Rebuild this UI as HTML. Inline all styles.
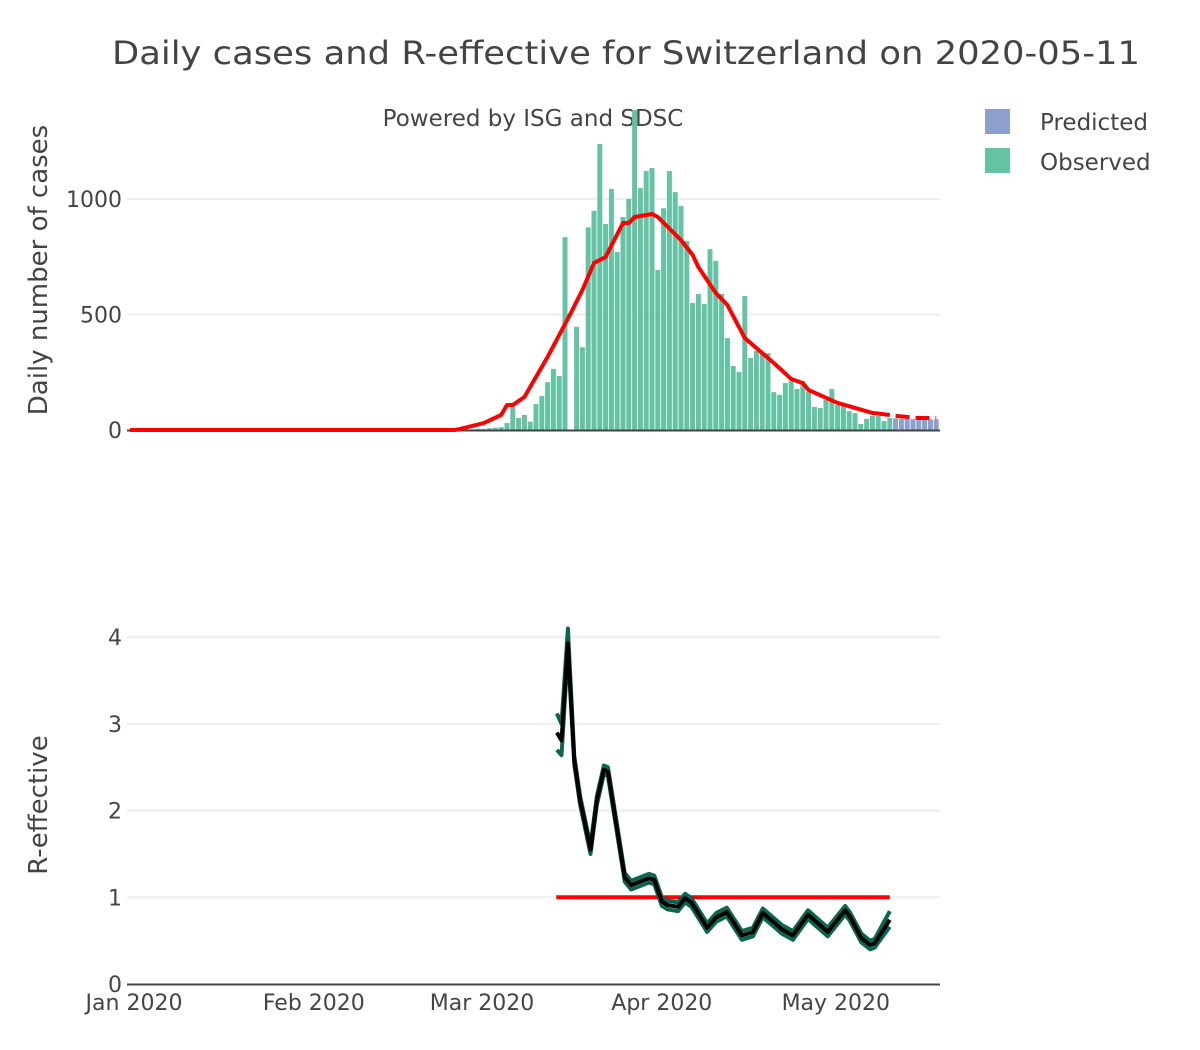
<!DOCTYPE html>
<html><head><meta charset="utf-8"><style>
body{margin:0;background:#fff;}
svg text{font-family:"DejaVu Sans","Liberation Sans",sans-serif;fill:#444;}
</style></head><body>
<svg id="chart" width="1200" height="1045" xmlns="http://www.w3.org/2000/svg">
<text x="626" y="64" text-anchor="middle" font-size="32" textLength="1028" lengthAdjust="spacingAndGlyphs">Daily cases and R-effective for Switzerland on 2020-05-11</text>
<text x="533" y="126" text-anchor="middle" font-size="23">Powered by ISG and SDSC</text>
<g>
<rect x="985" y="109" width="25" height="25" fill="#8da0cb"/>
<text x="1040" y="130" font-size="23">Predicted</text>
<rect x="985" y="148" width="25" height="25" fill="#66c2a5"/>
<text x="1040" y="170" font-size="23">Observed</text>
</g>
<text transform="translate(47,270) rotate(-90)" text-anchor="middle" font-size="26">Daily number of cases</text>
<text transform="translate(47,805) rotate(-90)" text-anchor="middle" font-size="26">R-effective</text>
<g id="g1"></g><g id="g2"></g>
</svg>
<script>
// days since 2020-01-01
const obsStartDay = 56;
const observed = [1,1,2,3,5,5,8,10,12,30,100,52,65,36,112,147,207,264,234,835,0,447,358,877,949,1238,892,1043,771,922,1000,1385,1047,1121,1134,693,960,1121,1030,970,818,550,589,545,783,732,589,398,277,251,580,312,342,333,333,164,152,203,212,178,212,164,100,95,130,177,108,108,82,73,26,48,61,61,39,52];
const predStartDay = 132;
const predicted = [50,48,48,47,47,46,46,46];
const smoothDays = [0,56,57,61,64,65,66,68,72,74,76,78,80,82,85,86,87,90,91,95,97,98,101,103,106,111,114,116,117,122,128,131];
const smoothVals = [0,0,5,30,65,108,108,143,316,411,506,606,723,749,896,896,922,935,922,822,758,705,593,541,398,290,221,203,173,117,74,65];
const smoothPredDays = [132,136,139];
const smoothPredVals = [61,52,52];
const rDays = [73.6,74.4,75.5,76.6,77.6,79.4,80.5,81.7,82.4,85.3,86.4,89.5,90.4,91.7,92.7,94.5,95.7,96.8,99.5,101.1,102.9,105.5,107.4,109.1,111.2,112.4,114.3,116.9,120.3,123.3,124.1,126.1,127.6,128.4,131];
const rMedian = [2.9,2.81,3.93,2.58,2.12,1.55,2.12,2.47,2.45,1.23,1.14,1.22,1.2,0.95,0.91,0.89,0.99,0.94,0.65,0.77,0.83,0.56,0.6,0.82,0.7,0.63,0.56,0.8,0.6,0.85,0.78,0.53,0.45,0.47,0.74];
const rUpper = [3.12,3.0,4.1,2.63,2.17,1.6,2.17,2.52,2.5,1.28,1.19,1.27,1.25,1.0,0.96,0.94,1.04,0.99,0.7,0.82,0.88,0.61,0.65,0.87,0.75,0.68,0.61,0.85,0.65,0.9,0.83,0.58,0.5,0.52,0.84];
const rLower = [2.7,2.64,3.85,2.53,2.07,1.5,2.07,2.42,2.4,1.18,1.09,1.17,1.15,0.9,0.86,0.84,0.94,0.89,0.6,0.72,0.78,0.51,0.55,0.77,0.65,0.58,0.51,0.75,0.55,0.8,0.73,0.48,0.4,0.42,0.66];
const caseTicks = [0,500,1000];
const rTicks = [0,1,2,3,4];
const monthDays = [0,31,60,91,121];
const monthLabels = ["Jan 2020","Feb 2020","Mar 2020","Apr 2020","May 2020"];
const refStart = 73.5, refEnd = 131, refVal = 1;

const NS="http://www.w3.org/2000/svg";
const X = d => 130 + d*5.8;
const Y1 = v => 430 - v*0.231;
const Y2 = v => 984 - v*86.7;
function mk(parent,tag,attrs){const e=document.createElementNS(NS,tag);for(const k in attrs)e.setAttribute(k,attrs[k]);parent.appendChild(e);return e;}
const g1=document.getElementById('g1'), g2=document.getElementById('g2');

caseTicks.forEach(t=>{
  if(t>0){const l=mk(g1,'line',{x1:127,x2:940,y1:Y1(t),y2:Y1(t),stroke:'#eee','stroke-width':2});
  
  }
  const tx=mk(g1,'text',{x:122,y:Y1(t)+8,'text-anchor':'end','font-size':22});tx.textContent=t;
  
  
});
rTicks.forEach(t=>{
  if(t>0){const l=mk(g2,'line',{x1:127,x2:940,y1:Y2(t),y2:Y2(t),stroke:'#eee','stroke-width':2});
  
  }
  const tx=mk(g2,'text',{x:122,y:Y2(t)+8,'text-anchor':'end','font-size':22});tx.textContent=t;
  
  
});
observed.forEach((v,i)=>{
  const d=obsStartDay+i;
  const r=mk(g1,'rect',{x:X(d)-2.5,width:5,y:Y1(v),height:Y1(0)-Y1(v),fill:'#66c2a5'});
  
  
});
predicted.forEach((v,i)=>{
  const d=predStartDay+i;
  const r=mk(g1,'rect',{x:X(d)-2.5,width:5,y:Y1(v),height:Y1(0)-Y1(v),fill:'#8da0cb'});
  
  
});
const ax1=mk(g1,'line',{x1:127,x2:940,y1:430.5,y2:430.5,stroke:'#444','stroke-width':2});


const pts=(ds,vs,Y)=>ds.map((d,i)=>X(d)+','+Y(vs[i])).join(' ');
const sl=mk(g1,'polyline',{points:pts(smoothDays,smoothVals,Y1),fill:'none',stroke:'red','stroke-width':4,'stroke-linejoin':'round'});


const sp=mk(g1,'polyline',{points:pts(smoothPredDays,smoothPredVals,Y1),fill:'none',stroke:'red','stroke-width':4,'stroke-dasharray':'14,6'});



const ax2=mk(g2,'line',{x1:127,x2:940,y1:984.5,y2:984.5,stroke:'#444','stroke-width':2});


const rl=mk(g2,'line',{x1:X(refStart),x2:X(refEnd),y1:Y2(refVal),y2:Y2(refVal),stroke:'red','stroke-width':4});


const up=mk(g2,'polyline',{points:pts(rDays,rUpper,Y2),fill:'none',stroke:'#0b6650','stroke-width':4,'stroke-linejoin':'round'});


const lo=mk(g2,'polyline',{points:pts(rDays,rLower,Y2),fill:'none',stroke:'#0b6650','stroke-width':4,'stroke-linejoin':'round'});


const md=mk(g2,'polyline',{points:pts(rDays,rMedian,Y2),fill:'none',stroke:'#000','stroke-width':4,'stroke-linejoin':'round'});



monthDays.forEach((d,i)=>{
  const tx=mk(g2,'text',{x:X(d)+4,y:1010,'text-anchor':'middle','font-size':22});tx.textContent=monthLabels[i];
  
  
});
</script>
</body></html>
